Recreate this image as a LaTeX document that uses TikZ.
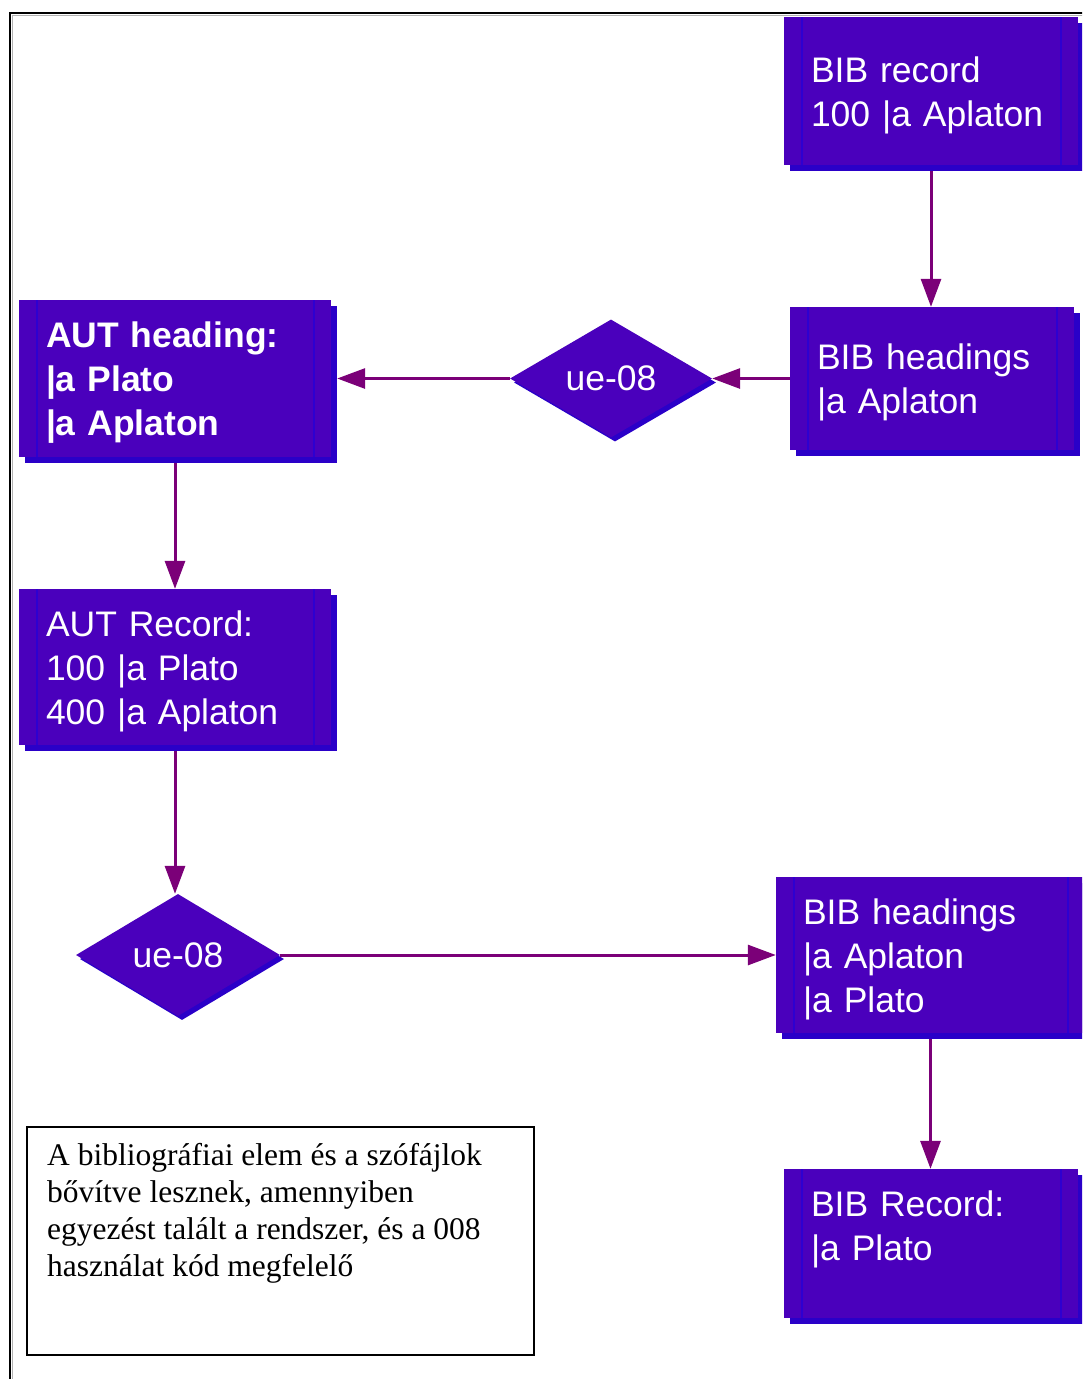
\documentclass[tikz,border=0pt]{standalone}
\usepackage{fontspec}
\setmainfont{Liberation Serif}
\newfontfamily\boxfont{Liberation Sans}
\usetikzlibrary{shapes.geometric,shadows,arrows.meta,calc}
\definecolor{boxblue}{RGB}{74,0,188}
\definecolor{shadowblue}{RGB}{42,0,200}
\definecolor{lineblue}{RGB}{46,0,208}
\definecolor{arrowpurple}{RGB}{123,0,120}
\newcommand\tstrut{\rule{0pt}{34pt}}
\tikzset{
  recbox/.style={rectangle, fill=boxblue, text=white, inner xsep=27pt, inner ysep=0pt,
    align=left, font=\boxfont\fontsize{35.5}{44}\selectfont,
    drop shadow={shadow xshift=6pt, shadow yshift=-6pt, fill=shadowblue, opacity=1},
    path picture={
      \draw[lineblue, line width=1.2pt]
        ([xshift=18pt]path picture bounding box.north west) -- ([xshift=18pt]path picture bounding box.south west)
        ([xshift=-17pt]path picture bounding box.north east) -- ([xshift=-17pt]path picture bounding box.south east);
    }},
  decision/.style={diamond, fill=boxblue, text=white, inner sep=0pt,
    font=\boxfont\fontsize{35.5}{44}\selectfont,
    drop shadow={shadow xshift=4pt, shadow yshift=-4pt, fill=shadowblue, opacity=1}},
  flow/.style={draw=arrowpurple, line width=3pt, -{Triangle[length=28pt,width=20pt]}},
  notebox/.style={draw=black, line width=1.8pt, rectangle, inner sep=0pt, fill=white},
  notetext/.style={align=left, inner sep=0pt, font=\fontsize{31.5}{37}\selectfont}
}
\begin{document}
\begin{tikzpicture}[x=1pt,y=-1pt]
\useasboundingbox (0,0) rectangle (1082,1379);
\clip (0,0) rectangle (1082,1379);
\fill[white] (0,0) rectangle (1082,1379);
% outer frame
\draw[black, line width=2.2pt] (10,1385) -- (10,13) -- (1090,13);
\draw[gray!60, line width=1pt] (12.5,1385) -- (12.5,15.5) -- (1090,15.5);

\node[recbox, minimum width=294pt, minimum height=148pt, text width=240pt] (bibrec) at (931,91)
  {\tstrut BIB record\\100 |a Aplaton};
\node[recbox, minimum width=284pt, minimum height=143pt, text width=230pt] (bibhead1) at (932,378.5)
  {\tstrut BIB headings\\|a Aplaton};
\node[recbox, minimum width=312pt, minimum height=157pt, text width=258pt, font=\boxfont\bfseries\fontsize{35.5}{44}\selectfont] (authead) at (175,378.5)
  {\tstrut AUT heading:\\|a Plato\\|a Aplaton};
\node[recbox, minimum width=312pt, minimum height=156pt, text width=258pt] (autrec) at (175,667)
  {\tstrut AUT Record:\\100 |a Plato\\400 |a Aplaton};
\node[recbox, minimum width=309pt, minimum height=156pt, text width=255pt] (bibhead2) at (930.5,955)
  {\tstrut BIB headings\\|a Aplaton\\|a Plato};
\node[recbox, minimum width=294pt, minimum height=149pt, text width=240pt] (bibrec2) at (931,1243.5)
  {\tstrut BIB Record:\\|a Plato\\\mbox{}};

\node[decision, minimum width=202pt, minimum height=118pt] (d1) at (611,378.5) {ue-08};
\node[decision, minimum width=204pt, minimum height=122pt] (d2) at (178,955) {ue-08};

\draw[flow] ([yshift=-6pt]bibrec.south) -- (bibrec.south |- bibhead1.north);
\draw[flow] (bibhead1.west) -- (d1.east);
\draw[flow] (d1.west) -- ([xshift=6pt]d1.west -| authead.east);
\draw[flow] ([yshift=-6pt]authead.south) -- (autrec.north);
\draw[flow] ([yshift=-6pt]autrec.south) -- (autrec.south |- d2.north);
\draw[flow] (d2.east) -- (d2.east -| bibhead2.west);
\draw[flow] ([yshift=-6pt]bibhead2.south) -- (bibhead2.south |- bibrec2.north);

\node[notebox, anchor=north west, minimum width=507pt, minimum height=228pt] (note) at (26,1126) {};
\node[notetext, anchor=north west] (notetxt) at ($(note.north west)+(21,17)$)
  {A bibliográfiai elem és a szófájlok\\bővítve lesznek, amennyiben\\egyezést talált a rendszer, és a 008\\használat kód megfelelő};
\end{tikzpicture}
\end{document}
